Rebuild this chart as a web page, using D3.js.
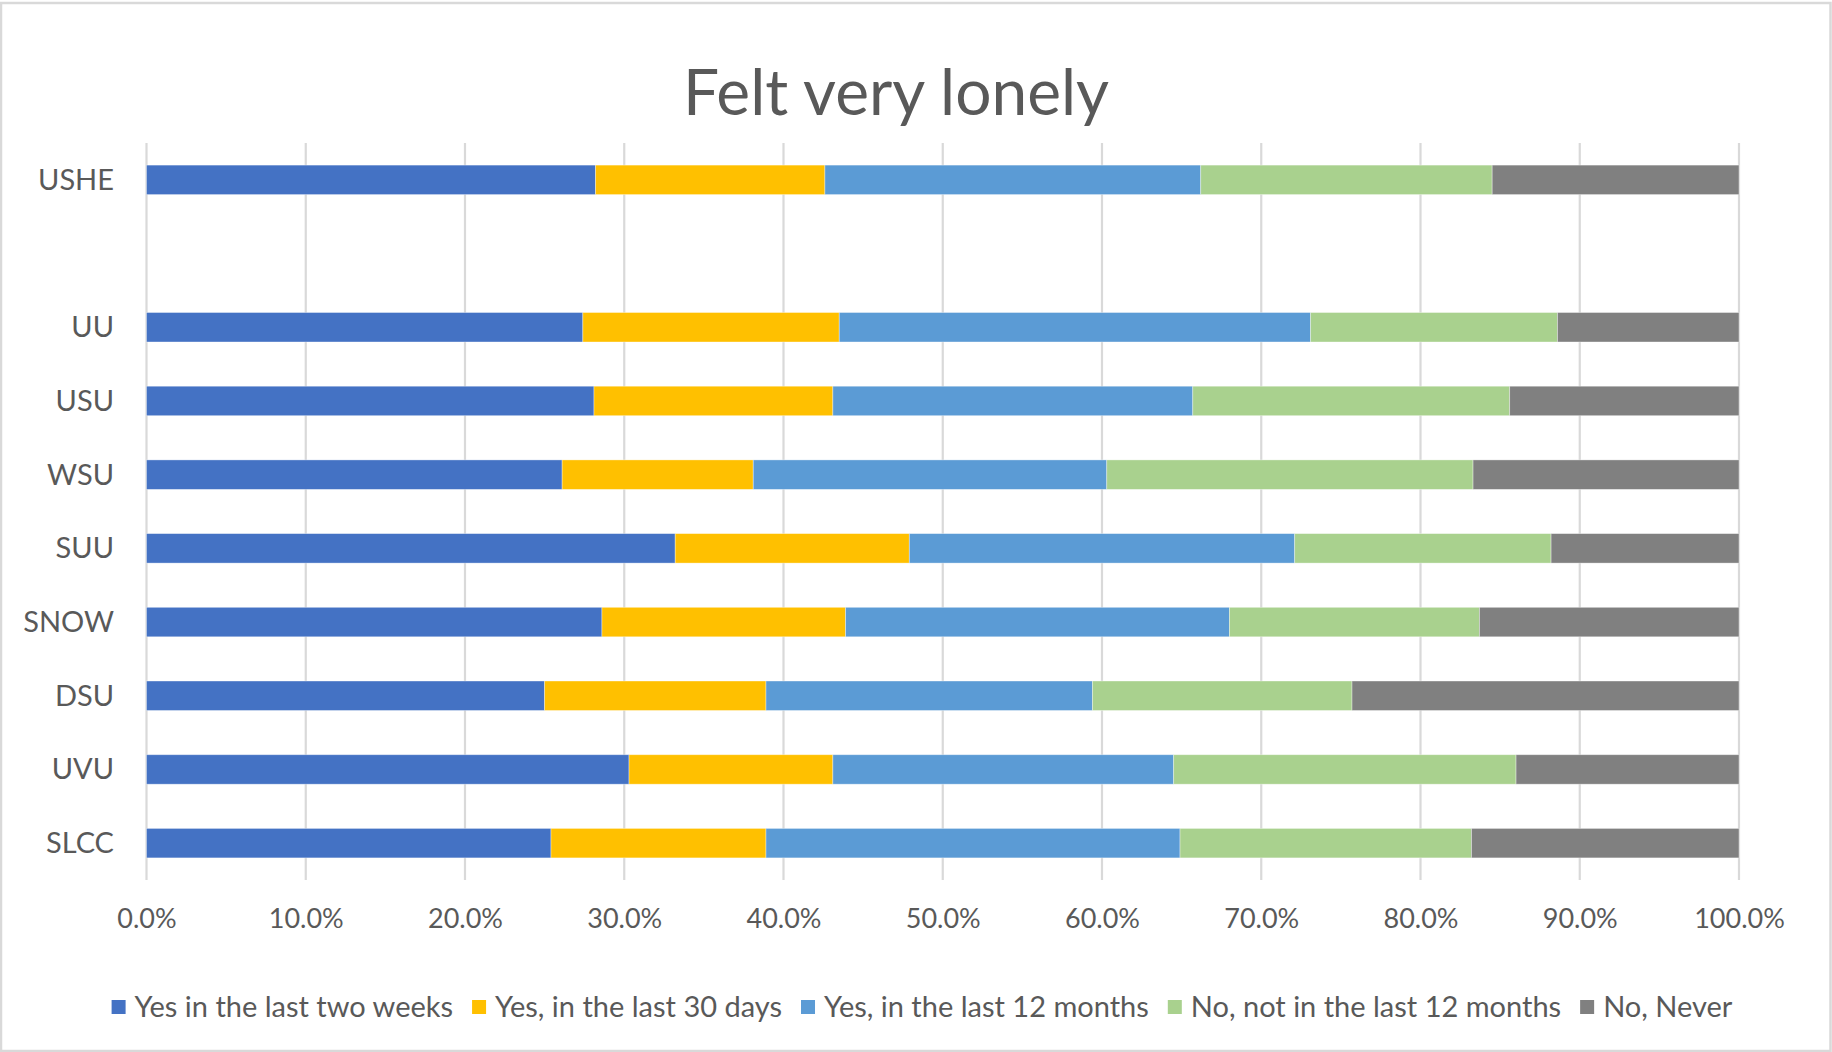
<!DOCTYPE html>
<html>
<head>
<meta charset="utf-8">
<script src="https://cdn.jsdelivr.net/npm/d3@7"></script>
<style>
  html, body { margin: 0; padding: 0; background: #fff; }
  svg { display: block; font-family: Lato, "Open Sans", sans-serif; }
</style>
</head>
<body>
<svg id="chart" width="1832" height="1052"></svg>
<script>
// Institutions, top to bottom; the empty entry leaves a gap below the system total
const categories = ["USHE", "", "UU", "USU", "WSU", "SUU", "SNOW", "DSU", "UVU", "SLCC"];
const institutions = ["USHE", "UU", "USU", "WSU", "SUU", "SNOW", "DSU", "UVU", "SLCC"];

// Share of respondents (percent) per answer, in the order of `institutions`
const yesTwoWeeks   = [28.2, 27.4, 28.1, 26.1, 33.2, 28.6, 25.0, 30.3, 25.4];
const yes30Days     = [14.4, 16.1, 15.0, 12.0, 14.7, 15.3, 13.9, 12.8, 13.5];
const yes12Months   = [23.6, 29.6, 22.6, 22.2, 24.2, 24.1, 20.5, 21.4, 26.0];
const notIn12Months = [18.3, 15.5, 19.9, 23.0, 16.1, 15.7, 16.3, 21.5, 18.3];
const never         = [15.5, 11.4, 14.4, 16.7, 11.8, 16.3, 24.3, 14.0, 16.8];

const seriesNames = ["Yes in the last two weeks", "Yes, in the last 30 days", "Yes, in the last 12 months", "No, not in the last 12 months", "No, Never"];
const seriesValues = [yesTwoWeeks, yes30Days, yes12Months, notIn12Months, never];
const colors = ["#4472C4", "#FFC000", "#5B9BD5", "#A9D18E", "#808080"];
const tickValues = [0, 10, 20, 30, 40, 50, 60, 70, 80, 90, 100];

const textColor = "#595959";
const svg = d3.select("#chart");
const W = 1832, H = 1052;

// chart border
svg.append("rect").attr("x", 1).attr("y", 3).attr("width", W - 2.5).attr("height", H - 4)
  .attr("fill", "#fff").attr("stroke", "#d9d9d9").attr("stroke-width", 2.5);

const plot = { left: 146.5, right: 1739, top: 143, bottom: 880 };

const x = d3.scaleLinear().domain([0, 100]).range([plot.left, plot.right]);
const y = d3.scaleBand().domain(categories).range([plot.top, plot.bottom])
  .paddingInner(0.6).paddingOuter(0.3);

// table rows for stacking
const rows = institutions.map((name, i) => {
  const r = { name };
  seriesNames.forEach((s, k) => { r[s] = seriesValues[k][i]; });
  return r;
});
const stacked = d3.stack().keys(seriesNames)(rows);

// vertical gridlines
svg.append("g").selectAll("line").data(tickValues).join("line")
  .attr("x1", d => x(d)).attr("x2", d => x(d))
  .attr("y1", plot.top).attr("y2", plot.bottom)
  .attr("stroke", "#d9d9d9").attr("stroke-width", 2.2);

// bars
svg.append("g").selectAll("g").data(stacked).join("g")
  .attr("fill", (d, i) => colors[i])
  .selectAll("rect").data(d => d).join("rect")
  .attr("x", d => x(d[0]))
  .attr("width", d => x(d[1]) - x(d[0]))
  .attr("y", d => y(d.data.name))
  .attr("height", y.bandwidth())
  .attr("stroke", "rgba(255,255,255,0.45)").attr("stroke-width", 0.8);

// x axis labels
const xAxis = d3.axisBottom(x).tickValues(tickValues).tickSize(0)
  .tickFormat(d => d3.format(".1f")(d) + "%");
const gx = svg.append("g").attr("transform", `translate(0,${plot.bottom})`).call(xAxis);
gx.select(".domain").remove();
gx.selectAll("text").attr("fill", textColor).attr("font-size", 27)
  .attr("font-family", "Lato, sans-serif").attr("dy", null).attr("y", 48);

// y axis labels
const yAxis = d3.axisLeft(y).tickSize(0).tickPadding(0);
const gy = svg.append("g").attr("transform", `translate(${114},0)`).call(yAxis);
gy.select(".domain").remove();
gy.selectAll("text").attr("fill", textColor).attr("font-size", 29)
  .attr("font-family", "Lato, sans-serif").attr("dy", "0.34em");

// title
svg.append("text").attr("x", 896).attr("y", 115).attr("text-anchor", "middle")
  .attr("fill", textColor).attr("font-size", 64).text("Felt very lonely");

// legend
const legend = svg.append("g");
let cursor = 0;
seriesNames.forEach((name, i) => {
  const item = legend.append("g").attr("transform", `translate(${cursor},0)`);
  item.append("rect").attr("x", 0).attr("y", -7).attr("width", 14).attr("height", 14).attr("fill", colors[i]);
  const t = item.append("text").attr("x", 23).attr("y", 0).attr("dy", "0.34em")
    .attr("fill", textColor).attr("font-size", 29).text(name);
  cursor += 23 + t.node().getComputedTextLength() + 19;
});
const legendWidth = cursor - 19;
legend.attr("transform", `translate(${922 - legendWidth / 2},1007)`);
</script>
</body>
</html>
